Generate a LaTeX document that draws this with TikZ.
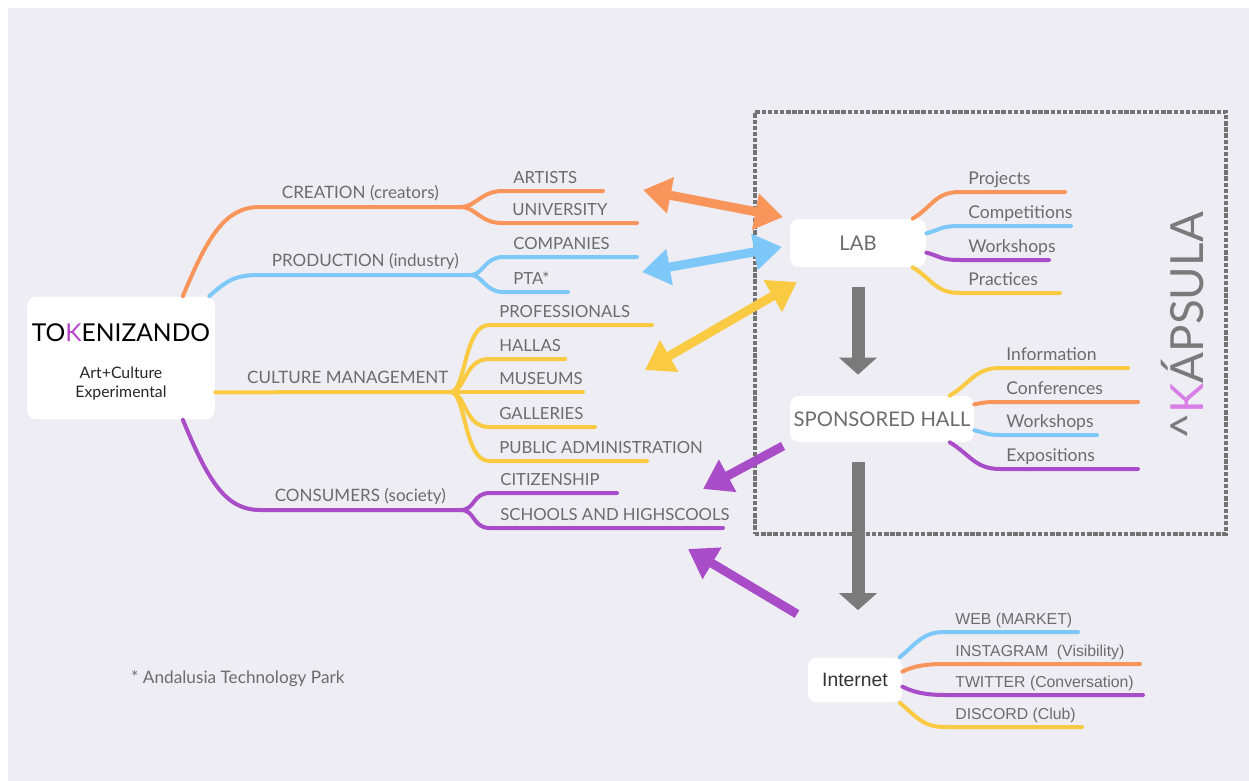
\documentclass[tikz,border=0pt]{standalone}
\usepackage{fontspec}
\setmainfont{Lato}
\newfontfamily\helv{Liberation Sans}
\usepackage{xcolor}
\usetikzlibrary{arrows.meta, positioning, calc}
\definecolor{corange}{HTML}{F9945A}
\definecolor{cblue}{HTML}{7DC8F8}
\definecolor{cyellow}{HTML}{F9CA42}
\definecolor{cpurple}{HTML}{A94CC8}
\definecolor{cgray}{HTML}{7A7A7A}
\definecolor{bgcol}{HTML}{EDEDF3}
\definecolor{txtgray}{HTML}{6C6C6C}
\definecolor{kviolet}{HTML}{B844CC}
\definecolor{kpink}{HTML}{D77FE6}
\tikzset{
    hub/.style={
        rectangle,
        rounded corners=5pt,
        fill=white,
        inner sep=0pt,
        text=txtgray,
        font=\fontsize{11.5}{13}\selectfont
    },
    topic/.style={
        anchor=south west,
        inner xsep=0pt,
        inner ysep=2pt,
        text depth=0.25em,
        text=txtgray,
        font=\fontsize{9.7}{11}\selectfont
    },
    leaf/.style={
        anchor=south west,
        inner xsep=0.2cm,
        inner ysep=1.5pt,
        text depth=0.25em,
        text=txtgray,
        font=\fontsize{9.5}{11}\selectfont
    },
    subleaf/.style={
        leaf,
        font=\fontsize{10}{11}\selectfont
    },
    netleaf/.style={
        leaf,
        font=\helv\fontsize{9}{10}\selectfont
    },
    branch/.style={
        draw=#1,
        line width=0.08cm,
        line cap=round
    },
    twoway/.style={
        draw=#1,
        line width=0.18cm,
        {Triangle[length=0.56cm,width=0.7cm]}-{Triangle[length=0.56cm,width=0.7cm]}
    },
    oneway/.style={
        draw=#1,
        line width=0.18cm,
        -{Triangle[length=0.56cm,width=0.7cm]}
    },
    down/.style={
        draw=cgray,
        line width=0.26cm,
        -{Triangle[length=0.34cm,width=0.74cm]}
    }
}
\begin{document}
\begin{tikzpicture}[x=0.02cm, y=-0.02cm]

\fill[white] (0,0) rectangle (1249,781);
\fill[bgcol] (8,8) rectangle (1249,781);
\useasboundingbox (0,0) rectangle (1249,781);

\node[draw=black!55, line width=2pt, dash pattern=on 2.5pt off 1pt, minimum width=9.42cm, minimum height=8.44cm] (kbox) at (990.5,323) {};
\node[rotate=90, text=cgray, font=\fontsize{26}{28}\selectfont] (kname) at (1183,326) {\textasciicircum\textcolor{kpink}{K}ÁPSULA};

\node[hub, minimum width=3.76cm, minimum height=2.46cm, rounded corners=0.2cm, align=center, text=black] (root) at (121,358)
    {\rule{0pt}{6pt}\\[-4pt]
     {\fontsize{14}{17}\selectfont TO\textcolor{kviolet}{K}ENIZANDO}\\[8pt]
     {\fontsize{9}{10.5}\selectfont\color{black!85} Art+Culture}\\[-2pt]
     {\fontsize{9}{10.5}\selectfont\color{black!85} Experimental}};

\node[topic, minimum width=4cm] (cre) at (260,207) {CREATION (creators)};
\node[topic, minimum width=4.2cm] (prod) at (260,275) {PRODUCTION (industry)};
\node[topic, minimum width=4.1cm] (cm) at (245,392) {CULTURE MANAGEMENT};
\node[topic, minimum width=4cm] (cons) at (260,510) {CONSUMERS (society)};

\node[leaf] (artists) at (503,191) {ARTISTS};
\node[leaf] (univ) at (502,223) {UNIVERSITY};
\node[leaf] (comp) at (503,257) {COMPANIES};
\node[leaf] (pta) at (503,292) {PTA*};
\node[leaf] (prof) at (489,325) {PROFESSIONALS};
\node[leaf] (hallas) at (489,359) {HALLAS};
\node[leaf] (museums) at (489,392) {MUSEUMS};
\node[leaf] (galleries) at (489,427) {GALLERIES};
\node[leaf] (pubadm) at (489,461) {PUBLIC ADMINISTRATION};
\node[leaf] (citizen) at (490,493) {CITIZENSHIP};
\node[leaf] (schools) at (490,528) {SCHOOLS AND HIGHSCOOLS};

\draw[branch=corange] (root.45) .. controls +(25,-60) and +(-35,0) .. (cre.south west) -- (cre.south east);
\draw[branch=cblue] (root.35) .. controls +(18,-16) and +(-25,0) .. (prod.south west) -- (prod.south east);
\draw[branch=cyellow] (root.-20) -- (cm.south east);
\draw[branch=cpurple] (root.-45) .. controls +(25,60) and +(-35,0) .. (cons.south west) -- (cons.south east);

\draw[branch=corange] (cre.south east) .. controls +(15,0) and +(-22,0) .. (artists.south west) -- ++(100,0);
\draw[branch=corange] (cre.south east) .. controls +(15,0) and +(-22,0) .. (univ.south west) -- ++(135,0);
\draw[branch=cblue] (prod.south east) .. controls +(12,0) and +(-18,0) .. (comp.south west) -- ++(134,0);
\draw[branch=cblue] (prod.south east) .. controls +(12,0) and +(-18,0) .. (pta.south west) -- ++(65,0);
\draw[branch=cyellow] (cm.south east) .. controls +(15,0) and +(-25,0) .. (prof.south west) -- ++(163,0);
\draw[branch=cyellow] (cm.south east) .. controls +(15,0) and +(-25,0) .. (hallas.south west) -- ++(76,0);
\draw[branch=cyellow] (cm.south east) -- (museums.south west) -- ++(94,0);
\draw[branch=cyellow] (cm.south east) .. controls +(15,0) and +(-25,0) .. (galleries.south west) -- ++(106,0);
\draw[branch=cyellow] (cm.south east) .. controls +(15,0) and +(-25,0) .. (pubadm.south west) -- ++(158,0);
\draw[branch=cpurple] (cons.south east) .. controls +(15,0) and +(-18,0) .. (citizen.south west) -- ++(127,0);
\draw[branch=cpurple] (cons.south east) .. controls +(15,0) and +(-18,0) .. (schools.south west) -- ++(233,0);

\node[hub, minimum width=2.72cm, minimum height=0.96cm] (lab) at (858,243) {LAB};
\node[hub, minimum width=3.68cm, minimum height=0.92cm] (hall) at (882,419) {SPONSORED HALL};
\node[hub, minimum width=1.88cm, minimum height=0.9cm, text=black!80, font=\helv\fontsize{11}{13}\selectfont] (net) at (855,680) {Internet};

\node[subleaf, inner xsep=0.16cm] (proj) at (960,192) {Projects};
\node[subleaf, inner xsep=0.16cm] (compet) at (960,226) {Competitions};
\node[subleaf, inner xsep=0.16cm] (work) at (960,260) {Workshops};
\node[subleaf, inner xsep=0.16cm] (pract) at (960,293) {Practices};

\draw[branch=corange] (lab.24) .. controls +(20,-12) and +(-25,0) .. (proj.south west) -- ++(105,0);
\draw[branch=cblue] (lab.8) .. controls +(15,-4) and +(-20,0) .. (compet.south west) -- ++(111,0);
\draw[branch=cpurple] (lab.-8) .. controls +(15,4) and +(-20,0) .. (work.south west) -- ++(89,0);
\draw[branch=cyellow] (lab.-24) .. controls +(20,12) and +(-25,0) .. (pract.south west) -- ++(100,0);

\node[subleaf, inner xsep=0.12cm] (info) at (1000,368) {Information};
\node[subleaf, inner xsep=0.12cm] (conf) at (1000,402) {Conferences};
\node[subleaf, inner xsep=0.12cm] (work2) at (1000,435) {Workshops};
\node[subleaf, inner xsep=0.12cm] (expo) at (1000,469) {Expositions};

\draw[branch=cyellow] (hall.19) .. controls +(20,-12) and +(-25,0) .. (info.south west) -- ++(128,0);
\draw[branch=corange] (hall.9) .. controls +(10,-2) and +(-15,0) .. (conf.south west) -- ++(138,0);
\draw[branch=cblue] (hall.-7) .. controls +(10,2) and +(-15,0) .. (work2.south west) -- ++(97,0);
\draw[branch=cpurple] (hall.-19) .. controls +(20,12) and +(-25,0) .. (expo.south west) -- ++(138,0);

\node[netleaf] (web) at (945,632) {WEB (MARKET)};
\node[netleaf] (insta) at (945,664) {INSTAGRAM\ \ (Visibility)};
\node[netleaf] (twit) at (945,695) {TWITTER\ (Conversation)};
\node[netleaf] (disc) at (945,727) {DISCORD (Club)};

\draw[branch=cblue] (net.27) .. controls +(18,-15) and +(-22,0) .. (web.south west) -- ++(133,0);
\draw[branch=corange] (net.10) .. controls +(12,-6) and +(-18,0) .. (insta.south west) -- ++(195,0);
\draw[branch=cpurple] (net.-8) .. controls +(12,6) and +(-18,0) .. (twit.south west) -- ++(198,0);
\draw[branch=cyellow] (net.-27) .. controls +(18,15) and +(-22,0) .. (disc.south west) -- ++(137,0);

\coordinate (oleft) at (643,190);
\coordinate (oright) at (783,217);
\coordinate (bleft) at (642,272);
\coordinate (bright) at (782,247);
\coordinate (yleft) at (645,370);
\coordinate (yright) at (797,282);
\coordinate (ptail) at (783,446);
\coordinate (ptip) at (703,489);
\coordinate (qtail) at (797,614);
\coordinate (qtip) at (688,549);

\draw[twoway=corange] (oleft) -- (oright);
\draw[twoway=cblue] (bleft) -- (bright);
\draw[twoway=cyellow] (yleft) -- (yright);
\draw[oneway=cpurple] (ptail) -- (ptip);
\draw[oneway=cpurple] (qtail) -- (qtip);

\draw[down, shorten <=0.4cm, shorten >=0.42cm] (lab.south) -- (lab.south |- hall.north);
\draw[down, shorten <=0.4cm, shorten >=0.94cm] (lab.south |- hall.south) -- (lab.south |- net.north);

\node[anchor=west, text=txtgray, font=\fontsize{9.8}{11}\selectfont] (foot) at (125,679) {* Andalusia Technology Park};

\end{tikzpicture}
\end{document}
